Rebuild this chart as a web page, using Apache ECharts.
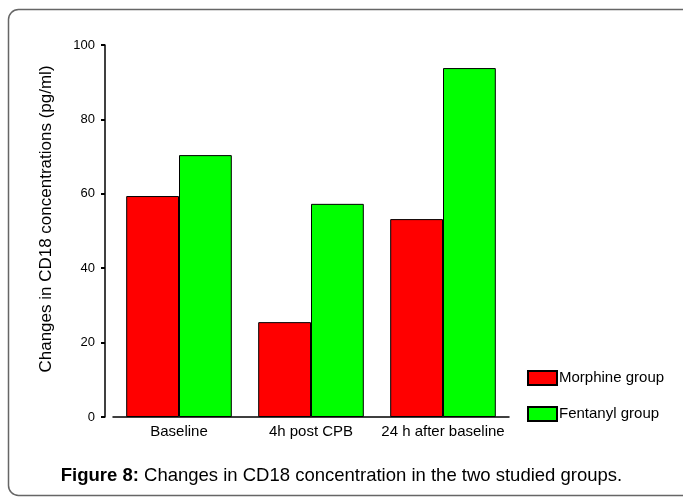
<!DOCTYPE html>
<html>
<head>
<meta charset="utf-8">
<script src="https://cdn.jsdelivr.net/npm/echarts@6/dist/echarts.min.js"></script>
<style>
  html, body { margin: 0; padding: 0; background: #fff; }
  #main { width: 683px; height: 497px; }
</style>
</head>
<body>
<div id="main"></div>
<script>
// time points
var timePoints = ['Baseline', '4h post CPB', '24 h after baseline'];
// CD18 values (pg/ml)
var morphine = [59.4, 25.5, 53.2];
var fentanyl = [70.4, 57.3, 93.8];
var seriesNames = ['Morphine group', 'Fentanyl group'];

var chart = echarts.init(document.getElementById('main'));
var FONT = '"Liberation Sans", Arial, sans-serif';

var option = {
    animation: false,
    textStyle: { fontFamily: FONT, color: '#000' },
    title: {
        text: '{b|Figure 8:} Changes in CD18 concentration in the two studied groups.',
        left: 'center',
        top: 461,
        textStyle: {
            rich: {
                b: { fontFamily: FONT, fontSize: 18.5, fontWeight: 'bold', color: '#000' }
            },
            fontFamily: FONT, fontSize: 18.5, fontWeight: 'normal', color: '#000'
        }
    },
    graphic: [{
        type: 'rect',
        shape: { x: 8.5, y: 9.5, width: 700, height: 486, r: 10 },
        style: { fill: 'none', stroke: '#666', lineWidth: 1.5 },
        z: -1
    }],
    legend: {
        orient: 'vertical',
        left: 527,
        top: 370,
        padding: 0,
        icon: 'rect',
        itemWidth: 29,
        itemHeight: 14,
        itemGap: 20,
        data: seriesNames,
        textStyle: { fontFamily: FONT, fontSize: 15, lineHeight: 14, color: '#000', padding: [0, 0, 0, -3] }
    },
    grid: { left: 113, right: 174, top: 45, bottom: 80 },
    xAxis: {
        type: 'category',
        data: timePoints,
        axisLine: { lineStyle: { color: '#000', width: 1.5 } },
        axisTick: { alignWithLabel: true, length: 3, lineStyle: { color: '#000', width: 2 } },
        axisLabel: { interval: 0, color: '#000', fontSize: 15, fontFamily: FONT, margin: 7 }
    },
    yAxis: {
        type: 'value',
        min: 0,
        max: 100,
        interval: 20,
        offset: 8,
        name: 'Changes in CD18 concentrations (pg/ml)',
        nameLocation: 'middle',
        nameGap: 50,
        nameTextStyle: { fontFamily: FONT, fontSize: 17, color: '#000', padding: [0, 0, 0, 24] },
        axisLine: { show: true, lineStyle: { color: '#000', width: 1.5 } },
        axisTick: { show: true, length: 4, lineStyle: { color: '#000', width: 2 } },
        axisLabel: { color: '#000', fontSize: 13, fontFamily: FONT, margin: 10 },
        splitLine: { show: false }
    },
    series: [{
        name: seriesNames[0],
        type: 'bar',
        data: morphine,
        barGap: '0%',
        barCategoryGap: '20%',
        itemStyle: { color: '#ff0000', borderColor: '#000', borderWidth: 1 }
    }, {
        name: seriesNames[1],
        type: 'bar',
        data: fentanyl,
        itemStyle: { color: '#00ff00', borderColor: '#000', borderWidth: 1 }
    }]
};

chart.setOption(option);
</script>
</body>
</html>
